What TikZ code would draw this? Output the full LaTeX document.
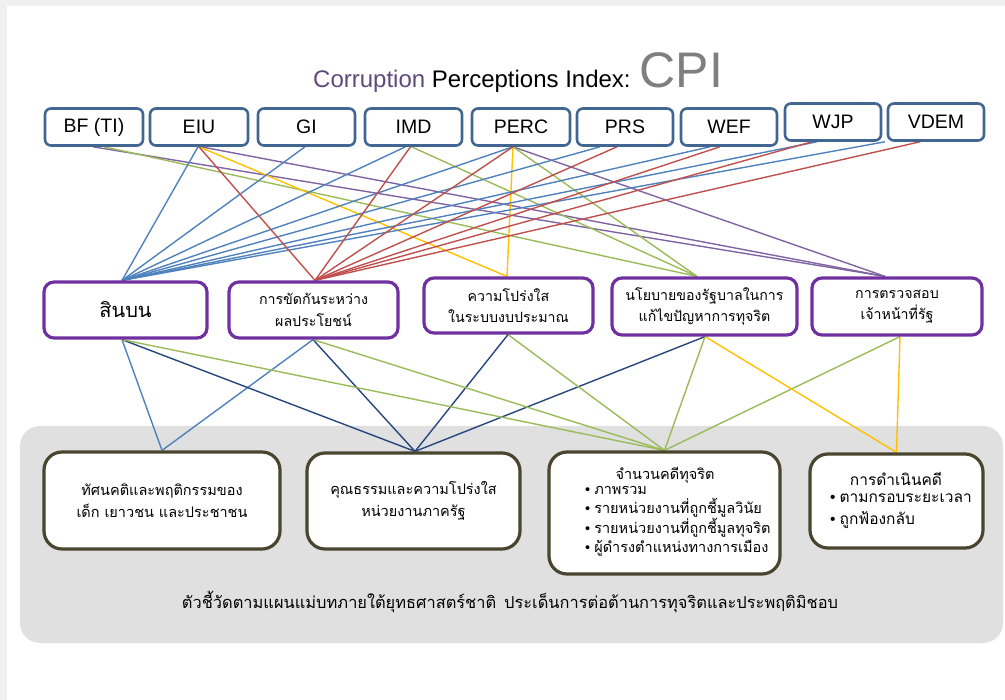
\documentclass[tikz,border=0pt]{standalone}
\usepackage{fontspec}
\setmainfont{Liberation Sans}
\newfontfamily\thai[Script=Thai]{Loma}
\definecolor{topc}{RGB}{65,102,145}
\definecolor{lblue}{RGB}{79,129,189}
\definecolor{lred}{RGB}{192,80,77}
\definecolor{lgreen}{RGB}{155,187,89}
\definecolor{lpurple}{RGB}{128,100,162}
\definecolor{lyellow}{RGB}{255,192,0}
\definecolor{dblue}{RGB}{38,70,125}
\definecolor{midc}{RGB}{112,48,160}
\definecolor{botc}{RGB}{74,69,46}
\definecolor{greybg}{RGB}{224,224,224}
\definecolor{framec}{RGB}{240,240,240}
\definecolor{titlep}{RGB}{96,73,123}
\definecolor{cpigray}{RGB}{127,127,127}
\pgfdeclarelayer{bg}
\pgfdeclarelayer{lines}
\pgfsetlayers{bg,lines,main}
\newcommand{\bul}{{\rmfamily\textbullet}\hspace{4pt}}
\begin{document}
\begin{tikzpicture}[x=1pt,y=-1pt,
  topbox/.style={draw=topc,line width=2.6pt,rounded corners=6pt,fill=white,minimum height=37pt,inner sep=0pt,font=\fontsize{19.5}{22}\selectfont},
  midbox/.style={draw=midc,line width=3.2pt,rounded corners=10pt,fill=white,inner sep=0pt,align=center,font=\thai\fontsize{14.2}{21.5}\selectfont},
  botbox/.style={draw=botc,line width=3.2pt,rounded corners=18pt,fill=white,inner sep=0pt,align=center,font=\thai\fontsize{14.5}{21.5}\selectfont},
  conn/.style={line width=1.4pt},
  thaitxt/.style={inner sep=0pt,font=\thai\fontsize{14.5}{19}\selectfont}
]
\useasboundingbox (0,0) rectangle (1005,700);
\begin{pgfonlayer}{bg}
  \fill[framec] (0,0) rectangle (1005,6);
  \fill[framec] (0,0) rectangle (7,700);
  \fill[greybg,rounded corners=20pt] (20,426) rectangle (1003,643);
\end{pgfonlayer}

% title
\node[anchor=base west,inner sep=0pt,font=\fontsize{24}{28}\selectfont] (title) at (313,88)
  {{\color{titlep}Corruption} Perceptions Index: {\fontsize{50}{50}\selectfont\color{cpigray}CPI}};

% top boxes
\node[topbox,minimum width=98pt] (bf)   at (94,127)  {BF (TI)};
\node[topbox,minimum width=98pt] (eiu)  at (199,127) {EIU};
\node[topbox,minimum width=97pt] (gi)   at (306.5,127) {GI};
\node[topbox,minimum width=97pt] (imd)  at (413.5,127) {IMD};
\node[topbox,minimum width=98pt] (perc) at (521,127) {PERC};
\node[topbox,minimum width=96pt] (prs)  at (625,127) {PRS};
\node[topbox,minimum width=96pt] (wef)  at (729,127) {WEF};
\node[topbox,minimum width=96pt] (wjp)  at (833,122) {WJP};
\node[topbox,minimum width=96pt] (vdem) at (936,122) {VDEM};

% middle boxes
\node[midbox,minimum width=163pt,minimum height=56pt,font=\thai\fontsize{20}{24}\selectfont] (m1) at (125.5,310) {สินบน};
\node[midbox,minimum width=169pt,minimum height=56pt] (m2) at (313.5,310) {การขัดกันระหว่าง\\ผลประโยชน์};
\node[midbox,minimum width=169pt,minimum height=55pt] (m3) at (508.5,305.5) {ความโปร่งใส\\ในระบบงบประมาณ};
\node[midbox,minimum width=185pt,minimum height=57pt] (m4) at (704.5,306.5) {นโยบายของรัฐบาลในการ\\แก้ไขปัญหาการทุจริต};
\node[midbox,minimum width=170pt,minimum height=57pt] (m5) at (897,306.5) {การตรวจสอบ\\เจ้าหน้าที่รัฐ};

% bottom boxes
\node[botbox,minimum width=236pt,minimum height=97pt] (b1) at (162,500.5) {ทัศนคติและพฤติกรรมของ\\เด็ก เยาวชน และประชาชน};
\node[botbox,minimum width=213pt,minimum height=96pt] (b2) at (413.5,501) {คุณธรรมและความโปร่งใส\\หน่วยงานภาครัฐ};
\node[botbox,minimum width=231pt,minimum height=122pt] (b3) at (664.5,513) {};
\node[botbox,minimum width=173pt,minimum height=94pt] (b4) at (896.5,501) {};

\node[thaitxt] (b3h) at (665,475) {จำนวนคดีทุจริต};
\node[thaitxt,anchor=west,align=left] (b3l) at (585,521.5)
  {\bul ภาพรวม\\\bul รายหน่วยงานที่ถูกชี้มูลวินัย\\\bul รายหน่วยงานที่ถูกชี้มูลทุจริต\\\bul ผู้ดำรงตำแหน่งทางการเมือง};
\node[thaitxt,font=\thai\fontsize{15.5}{21.5}\selectfont] (b4h) at (896,479) {การดำเนินคดี};
\node[thaitxt,anchor=west,align=left,font=\thai\fontsize{15.5}{21.5}\selectfont] (b4l) at (830,511)
  {\bul ตามกรอบระยะเวลา\\\bul ถูกฟ้องกลับ};

\node[inner sep=0pt,font=\thai\fontsize{16.4}{21}\selectfont] (cap) at (510,602)
  {ตัวชี้วัดตามแผนแม่บทภายใต้ยุทธศาสตร์ชาติ\hspace{8pt}ประเด็นการต่อต้านการทุจริตและประพฤติมิชอบ};

% connectors top -> middle
\begin{pgfonlayer}{lines}
  \coordinate (t1) at ([xshift=-3.5pt]m1.north);
  \coordinate (t2) at ([xshift=1.5pt]m2.north);
  \coordinate (t3) at ([xshift=-1.5pt]m3.north);
  \coordinate (t4) at ([xshift=-7.5pt]m4.north);
  \coordinate (t5) at ([xshift=-12pt]m5.north);
  % purple
  \draw[conn,lpurple] ([xshift=-1pt]bf.south) -- (t5);
  \draw[conn,lpurple] ([xshift=2pt]eiu.south) -- (t5);
  \draw[conn,lpurple] ([xshift=-8pt]perc.south) -- (t5);
  % green
  \draw[conn,lgreen] ([xshift=10pt]bf.south) -- (t4);
  \draw[conn,lgreen] ([xshift=-2pt]imd.south) -- (t4);
  \draw[conn,lgreen] ([xshift=-8pt]perc.south) -- (t4);
  % yellow
  \draw[conn,lyellow] ([xshift=0pt]eiu.south) -- (t3);
  \draw[conn,lyellow] ([xshift=-8pt]perc.south) -- (t3);
  % blue
  \draw[conn,lblue] ([xshift=-1pt]eiu.south) -- (t1);
  \draw[conn,lblue] ([xshift=-1.5pt]gi.south) -- (t1);
  \draw[conn,lblue] ([xshift=-8pt]imd.south) -- (t1);
  \draw[conn,lblue] ([xshift=-8pt]perc.south) -- (t1);
  \draw[conn,lblue] ([xshift=-25pt]prs.south) -- (t1);
  \draw[conn,lblue] ([xshift=-19pt]wef.south) -- (t1);
  \draw[conn,lblue] ([xshift=-16pt]wjp.south) -- (t1);
  \draw[conn,lblue] ([xshift=-51pt]vdem.south) -- (t1);
  % red
  \draw[conn,lred] ([xshift=0pt]eiu.south) -- (t2);
  \draw[conn,lred] ([xshift=-3pt]imd.south) -- (t2);
  \draw[conn,lred] ([xshift=-8pt]perc.south) -- (t2);
  \draw[conn,lred] ([xshift=-8pt]prs.south) -- (t2);
  \draw[conn,lred] ([xshift=-9pt]wef.south) -- (t2);
  \draw[conn,lred] ([xshift=-21pt]wjp.south) -- (t2);
  \draw[conn,lred] ([xshift=-16pt]vdem.south) -- (t2);

  % middle -> bottom
  \coordinate (s1) at ([xshift=-3.5pt]m1.south);
  \coordinate (s2) at ([xshift=-0.5pt]m2.south);
  \coordinate (s3) at ([xshift=-0.5pt]m3.south);
  \coordinate (s4) at ([xshift=0.5pt]m4.south);
  \coordinate (s5) at ([xshift=3pt]m5.south);
  \draw[conn,lblue] (s1) -- (b1.north);
  \draw[conn,lblue] (s2) -- (b1.north);
  \draw[conn,dblue] (s1) -- ([xshift=1.5pt]b2.north);
  \draw[conn,dblue] (s2) -- ([xshift=1.5pt]b2.north);
  \draw[conn,dblue] (s3) -- ([xshift=1.5pt]b2.north);
  \draw[conn,dblue] (s4) -- ([xshift=1.5pt]b2.north);
  \draw[conn,lgreen] (s1) -- (b3.north);
  \draw[conn,lgreen] (s2) -- (b3.north);
  \draw[conn,lgreen] (s3) -- (b3.north);
  \draw[conn,lgreen] (s4) -- (b3.north);
  \draw[conn,lgreen] (s5) -- (b3.north);
  \draw[conn,lyellow] (s4) -- (b4.north);
  \draw[conn,lyellow] (s5) -- (b4.north);
\end{pgfonlayer}
\end{tikzpicture}
\end{document}
